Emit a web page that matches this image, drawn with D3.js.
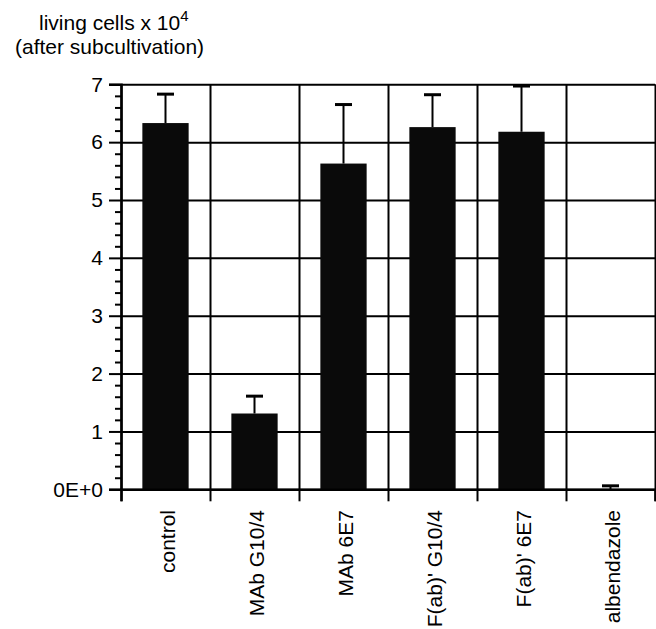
<!DOCTYPE html>
<html>
<head>
<meta charset="utf-8">
<script src="https://cdn.jsdelivr.net/npm/d3@7"></script>
<style>
  body { margin: 0; background: #fff; }
  text { font-family: "Liberation Sans", Arial, sans-serif; fill: #000; }
</style>
</head>
<body>
<div id="chart"></div>
<script>
var categories = ["control", "MAb G10/4", "MAb 6E7", "F(ab)' G10/4", "F(ab)' 6E7", "albendazole"];
var means = [6.33, 1.31, 5.63, 6.26, 6.18, 0.0];
var errors = [0.50, 0.30, 1.02, 0.56, 0.79, 0.06];
var yTicks = [0, 1, 2, 3, 4, 5, 6, 7];

var width = 656, height = 629;
var plotLeft = 121, plotRight = 655, plotTop = 84.3, plotBottom = 489.3;

var svg = d3.select("#chart")
    .append("svg")
    .attr("width", width)
    .attr("height", height);

var x = d3.scaleBand()
    .domain(categories)
    .range([plotLeft, plotRight])
    .padding(0);

var xEdge = d3.scaleLinear()
    .domain([0, categories.length])
    .range([plotLeft, plotRight]);

var y = d3.scaleLinear()
    .domain([0, 7])
    .range([plotBottom, plotTop]);

// horizontal grid
svg.append("g")
    .attr("transform", "translate(" + plotLeft + ",0)")
    .call(d3.axisLeft(y).tickValues(yTicks).tickSize(-(plotRight - plotLeft)).tickFormat(""))
    .call(function (g) { g.select(".domain").remove(); })
    .selectAll("line").attr("stroke", "#000").attr("stroke-width", 2);

// vertical grid
svg.append("g")
    .attr("transform", "translate(0," + plotBottom + ")")
    .call(d3.axisBottom(xEdge).tickValues(d3.range(0, categories.length + 1)).tickSize(-(plotBottom - plotTop)).tickFormat(""))
    .call(function (g) { g.select(".domain").remove(); })
    .selectAll("line").attr("stroke", "#000").attr("stroke-width", 2);

// bars
svg.selectAll("rect.bar")
    .data(means)
    .enter()
    .append("rect")
    .attr("class", "bar")
    .attr("x", function (d, i) { return x(categories[i]) + x.bandwidth() * 0.24; })
    .attr("width", x.bandwidth() * 0.52)
    .attr("y", function (d) { return y(d); })
    .attr("height", function (d) { return y(0) - y(d); })
    .attr("fill", "#0a0a0a");

// error bars
var err = svg.append("g");
err.selectAll("line.stem")
    .data(means)
    .enter()
    .append("line")
    .attr("x1", function (d, i) { return x(categories[i]) + x.bandwidth() / 2; })
    .attr("x2", function (d, i) { return x(categories[i]) + x.bandwidth() / 2; })
    .attr("y1", function (d) { return y(d); })
    .attr("y2", function (d, i) { return y(d + errors[i]); })
    .attr("stroke", "#000")
    .attr("stroke-width", 2);

err.selectAll("line.cap")
    .data(means)
    .enter()
    .append("line")
    .attr("x1", function (d, i) { return x(categories[i]) + x.bandwidth() / 2 - 8.5; })
    .attr("x2", function (d, i) { return x(categories[i]) + x.bandwidth() / 2 + 8.5; })
    .attr("y1", function (d, i) { return y(d + errors[i]); })
    .attr("y2", function (d, i) { return y(d + errors[i]); })
    .attr("stroke", "#000")
    .attr("stroke-width", 3);

// y axis major ticks and labels
var yAxisG = svg.append("g")
    .attr("transform", "translate(" + plotLeft + ",0)")
    .call(d3.axisLeft(y)
        .tickValues(yTicks)
        .tickSize(12)
        .tickPadding(6)
        .tickFormat(function (d) { return d === 0 ? "0E+0" : d; }));
yAxisG.select(".domain").attr("stroke", "#000").attr("stroke-width", 2.5);
yAxisG.selectAll("line").attr("stroke", "#000").attr("stroke-width", 2);
yAxisG.selectAll("text")
    .style("font-size", "21px")
    .style("font-family", "'Liberation Sans', Arial, sans-serif")
    .attr("fill", "#000");

// y axis minor ticks
var minorTicks = d3.range(0, 35).map(function (i) { return i / 5; }).filter(function (d, i) { return i % 5 !== 0; });
svg.append("g")
    .attr("transform", "translate(" + plotLeft + ",0)")
    .call(d3.axisLeft(y).tickValues(minorTicks).tickSize(6).tickFormat(""))
    .call(function (g) { g.select(".domain").remove(); })
    .selectAll("line").attr("stroke", "#000").attr("stroke-width", 2);

// x axis ticks
var xAxisG = svg.append("g")
    .attr("transform", "translate(0," + plotBottom + ")")
    .call(d3.axisBottom(xEdge).tickValues(d3.range(0, categories.length + 1)).tickSize(12).tickFormat(""));
xAxisG.select(".domain").attr("stroke", "#000").attr("stroke-width", 2.5);
xAxisG.selectAll("line").attr("stroke", "#000").attr("stroke-width", 2);

// category labels
svg.selectAll("text.cat")
    .data(categories)
    .enter()
    .append("text")
    .attr("class", "cat")
    .attr("transform", function (d) {
        return "translate(" + (x(d) + x.bandwidth() / 2 + 2) + "," + 510 + ") rotate(-90)";
    })
    .attr("dy", "0.35em")
    .style("text-anchor", "end")
    .style("font-size", "21px")
    .text(function (d) { return d; });

// y axis title
var title = svg.append("text")
    .attr("x", 39)
    .attr("y", 29.5)
    .style("font-size", "21px");
title.append("tspan").text("living cells x 10");
title.append("tspan")
    .attr("dy", -9)
    .style("font-size", "15px")
    .text("4");

svg.append("text")
    .attr("x", 15)
    .attr("y", 54)
    .style("font-size", "21px")
    .text("(after subcultivation)");
</script>
</body>
</html>
